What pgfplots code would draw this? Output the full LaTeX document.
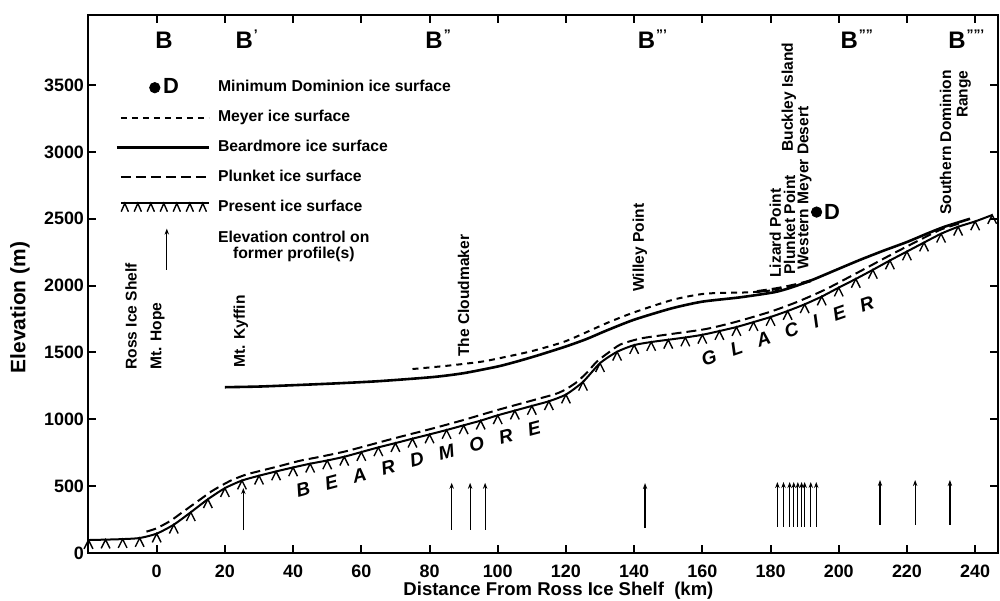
\documentclass[border=0pt]{standalone}
\usepackage{fontspec}
\setmainfont{Liberation Sans}
\usepackage{pgfplots}
\pgfplotsset{compat=1.18}
\usetikzlibrary{arrows.meta}
\newcommand{\fs}[2]{\fontsize{#1}{#2}\selectfont}
\newcommand{\pr}[1]{\textsuperscript{\fs{7}{7}\kern0.5bp#1}}
\pgfdeclareplotmark{hach}{%
  \pgfpathmoveto{\pgfpoint{-2.2bp}{-4.4bp}}%
  \pgfpathlineto{\pgfpointorigin}%
  \pgfpathlineto{\pgfpoint{2.2bp}{-4.4bp}}%
  \pgfusepathqstroke}
\tikzset{
  beard/.style={line width=1.3bp, black},
  meyer/.style={line width=1bp, black, dash pattern=on 3bp off 2.5bp},
  plunket/.style={line width=1bp, black, dash pattern=on 5bp off 2.5bp},
  ctrl/.style={black, line width=0.6bp, -{Stealth[length=3bp,width=2.2bp]}},
}
\begin{document}
\begin{tikzpicture}
\useasboundingbox (-44bp,-24bp) rectangle (456bp,276.5bp);
\begin{axis}[
  at={(0,0)}, anchor=south west, scale only axis, width=455bp, height=269bp,
  xmin=-20.15, xmax=246.7, ymin=0, ymax=4024,
  xtick={0,20,...,240}, ytick={0,500,...,3500},
  tick align=inside, major tick length=4bp,
  axis line style={line width=1.4bp},
  tick style={line width=1bp, black},
  /pgf/number format/assume math mode=true,
  /pgf/number format/1000 sep={},
  ticklabel style={font=\bfseries\fs{9}{9}},
  yticklabel style={xshift=1.5bp},
  xticklabel style={yshift=-2.5bp},
  xlabel={Distance From Ross Ice Shelf\ \ (km)},
  ylabel={Elevation (m)},
  xlabel style={font=\bfseries\fs{9.3}{9.3}, at={(axis description cs:0.517,-0.071)}, anchor=center},
  ylabel style={font=\bfseries\fs{10.5}{10.5}, at={(axis description cs:-0.0747,0.456)}, anchor=center},
  clip=false,
  legend style={at={(axis cs:-12.2,3552)}, anchor=north west, draw=none, fill=none,
     inner sep=0pt, row sep=5.75bp, column sep=3bp, font=\bfseries\fs{7.9}{8},
     nodes={inner sep=1bp}},
  legend cell align=left,
]
% legend
\addlegendimage{legend image code/.code={\path[draw=none,fill=none] (0,-4bp) rectangle (44bp,4bp);
   \fill (17bp,0) circle (2.6bp);
   \node[anchor=west, inner sep=0pt, font=\bfseries\fs{11}{11}] at (21bp,0) {D};}}
\addlegendentry{Minimum Dominion ice surface}
\addlegendimage{legend image code/.code={\path[draw=none,fill=none] (0,-4bp) rectangle (44bp,4bp);
   \draw[meyer] (0,0) -- (44bp,0);}}
\addlegendentry{Meyer ice surface}
\addlegendimage{legend image code/.code={\path[draw=none,fill=none] (0,-4bp) rectangle (44bp,4bp);
   \draw[beard] (-2bp,0) -- (44bp,0);}}
\addlegendentry{Beardmore ice surface}
\addlegendimage{legend image code/.code={\path[draw=none,fill=none] (0,-4bp) rectangle (44bp,4bp);
   \draw[plunket] (0,0) -- (44bp,0);}}
\addlegendentry{Plunket ice surface}
\addlegendimage{legend image code/.code={\path[draw=none,fill=none] (0,-4bp) rectangle (44bp,4bp);
   \draw[line width=1bp] (0,2bp) -- (44bp,2bp);
   \foreach \x in {2,8.5,15,21.5,28,34.5,41} {\draw[xshift=\x bp, line width=0.7bp] (-1.8bp,-2.2bp) -- (0,2bp) -- (1.8bp,-2.2bp);}}}
\addlegendentry{Present ice surface}
\addlegendimage{legend image code/.code={\path[draw=none,fill=none] (0,-4bp) rectangle (44bp,4bp);
   \draw[ctrl] (23bp,-15.5bp) -- (23bp,5bp);}}
\addlegendentry{\begin{tabular}[t]{@{}l@{}}Elevation control on\\\hspace{7.5bp}former profile(s)\end{tabular}}

% Present ice surface (line with hachures)
\addplot[black, line width=1bp, smooth, tension=0.4, mark=hach,
  mark options={line width=0.7bp, solid}, forget plot] coordinates {
(-20,97) (-15,100) (-10,104) (-5,112) (0,145) (5,212) (10,305) (15,402) (20,485)
(25,542) (30,578) (35,610) (40,640) (45,668) (50,692) (55,720) (60,755) (65,790)
(70,822) (75,855) (80,887) (85,920) (90,955) (95,990) (100,1030) (105,1065)
(110,1100) (115,1135) (120,1185) (125,1280) (130,1420) (135,1505) (140,1555)
(145,1578) (150,1595) (155,1612) (160,1632) (165,1660) (170,1690) (175,1727)
(180,1765) (185,1810) (190,1860) (195,1918) (200,1985) (205,2050) (210,2118)
(215,2188) (220,2255) (225,2322) (230,2388) (235,2440) (240,2480) (245,2528)};
% Plunket (lower)
\addplot[plunket, smooth, tension=0.4, forget plot] coordinates {
(-3,160) (0,185) (4,240) (7,295) (10,350) (13,405) (16,460) (19,505) (22,545)
(26,585) (30,612) (36,650) (42,690) (48,720) (55,758) (61,798) (70,860) (81,932)
(90,995) (100,1070) (110,1140) (117,1190) (120,1225) (123,1275) (126,1345)
(129,1430) (132,1490) (136,1560) (142,1605) (150,1635) (161,1675) (170,1730)
(180,1805) (188,1880) (196,1970) (205,2090) (216,2240) (224,2345) (230,2420) (236,2470)};
% Beardmore ice surface
\addplot[beard, smooth, tension=0.4, forget plot] coordinates {
(20,1240) (30,1245) (40,1255) (52,1268) (65,1285) (81,1316) (90,1345) (100,1395)
(106,1435) (112,1480) (120,1545) (126,1600) (132,1665) (140,1745) (151,1830)
(160,1880) (171,1912) (181,1950) (186,1985) (192,2040) (199,2115) (206,2190)
(213,2260) (220,2326) (226,2390) (231,2440) (238.5,2500)};
% Meyer ice surface
\addplot[meyer, smooth, tension=0.4, forget plot] coordinates {
(75,1376) (85,1400) (95,1430) (100.7,1458) (110,1510) (120,1585) (132,1720)
(140,1800) (151.5,1895) (161,1940) (174,1950) (182,1968)};
% Plunket (upper, near Lizard/Plunket Points)
\addplot[plunket, line width=1.5bp, smooth, forget plot] coordinates {
(176,1955) (182,1978) (188,2010) (193,2045)};
% Minimum Dominion ice surface
\addplot[only marks, mark=*, mark size=2.6bp, black, forget plot] coordinates {(193.5,2550)};
\node[anchor=west, inner sep=0pt, font=\bfseries\fs{11}{11}] at (axis cs:195.6,2550) {D};
% Elevation control arrows
\addplot[ctrl, forget plot] coordinates {(25.4,172) (25.4,486)};
\addplot[ctrl, forget plot] coordinates {(86.5,175) (86.5,525)};
\addplot[ctrl, forget plot] coordinates {(91.9,175) (91.9,525)};
\addplot[ctrl, forget plot] coordinates {(96.3,175) (96.3,525)};
\addplot[ctrl, forget plot] coordinates {(143.2,187) (143.2,523)};
\addplot[ctrl, forget plot] coordinates {(182,195) (182,531)};
\addplot[ctrl, forget plot] coordinates {(183.8,195) (183.8,531)};
\addplot[ctrl, forget plot] coordinates {(185.6,195) (185.6,531)};
\addplot[ctrl, forget plot] coordinates {(186.8,195) (186.8,531)};
\addplot[ctrl, forget plot] coordinates {(188,195) (188,531)};
\addplot[ctrl, forget plot] coordinates {(189.1,195) (189.1,531)};
\addplot[ctrl, forget plot] coordinates {(190,195) (190,531)};
\addplot[ctrl, forget plot] coordinates {(191.8,195) (191.8,531)};
\addplot[ctrl, forget plot] coordinates {(193.4,195) (193.4,531)};
\addplot[ctrl, forget plot] coordinates {(212.1,210) (212.1,546)};
\addplot[ctrl, forget plot] coordinates {(222.4,210) (222.4,546)};
\addplot[ctrl, forget plot] coordinates {(232.6,210) (232.6,546)};
% Section labels
\begin{scope}[every node/.style={anchor=base west, inner sep=0pt, font=\bfseries\fs{12}{12}}]
\node at (axis cs:-0.5,3777) {B};
\node at (axis cs:23,3777) {B\pr{'}};
\node at (axis cs:78.7,3777) {B\pr{''}};
\node at (axis cs:141,3777) {B\pr{'''}};
\node at (axis cs:200.4,3777) {B\pr{''''}};
\node at (axis cs:232,3777) {B\pr{'''''}};
\end{scope}
% Place names
\begin{scope}[every node/.style={rotate=90, anchor=west, inner sep=0pt, font=\bfseries\fs{7.8}{8.2}}]
\node at (axis cs:-7.5,1369) {Ross Ice Shelf};
\node at (axis cs:0.3,1369) {Mt. Hope};
\node at (axis cs:24.7,1384) {Mt. Kyffin};
\node at (axis cs:90,1466) {The Cloudmaker};
\node at (axis cs:141.7,1952) {Willey Point};
\node at (axis cs:181.4,2057) {Lizard Point};
\node at (axis cs:185.6,2080) {Plunket Point};
\node at (axis cs:185.4,3000) {Buckley Island};
\node at (axis cs:190,2117) {Western Meyer Desert};
\node[align=right] at (axis cs:234.2,2528) {Southern Dominion\\Range};
\end{scope}
% Glacier name
\node[rotate=14.8, font=\bfseries\itshape\fs{9.5}{9.5}] at (axis cs:76.7,700)
  {B\hspace{8bp}E\hspace{8bp}A\hspace{8bp}R\hspace{8bp}D\hspace{8bp}M\hspace{8bp}O\hspace{8bp}R\hspace{8bp}E};
\node[rotate=19, font=\bfseries\itshape\fs{9.5}{9.5}] at (axis cs:185,1660)
  {G\hspace{8bp}L\hspace{8bp}A\hspace{8bp}C\hspace{8bp}I\hspace{8bp}E\hspace{8bp}R};
\end{axis}
\end{tikzpicture}
\end{document}
